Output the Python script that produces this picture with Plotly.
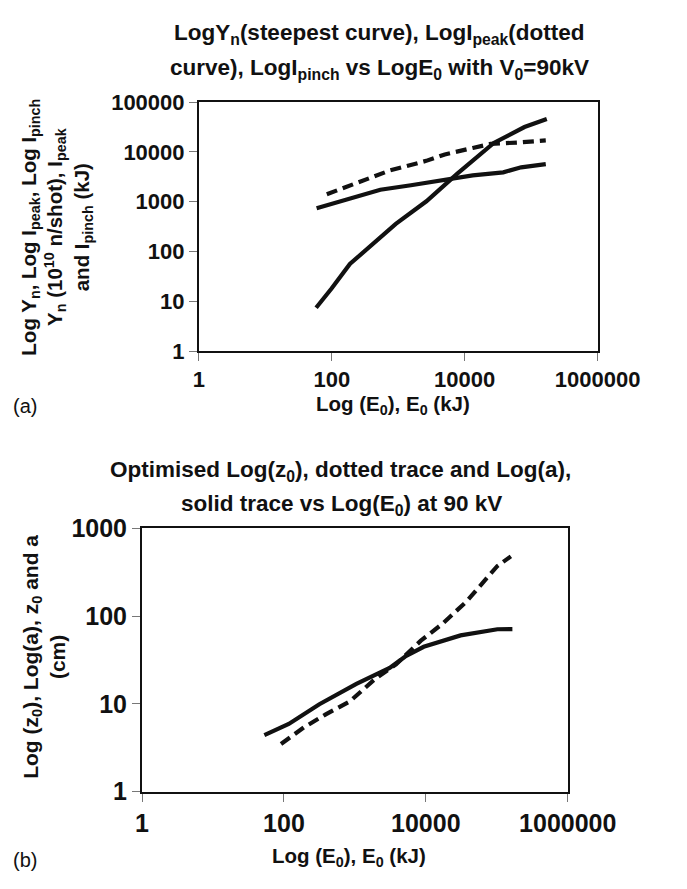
import plotly.graph_objects as go

W, H = 687, 889

# ---- data (a) ----
E_yn = [58, 99, 187, 918, 2650, 7670, 27400, 79400, 172000]
Y_yn = [7.4, 18, 56, 359, 1020, 3630, 15100, 31600, 45700]

E_peak = [84, 186, 741, 2630, 5010, 13200, 24500, 64600, 166000]
I_peak = [1410, 2140, 4220, 6610, 8910, 12000, 14500, 15500, 17000]

E_pinch = [59, 186, 537, 1550, 4470, 13200, 38000, 70800, 166000]
I_pinch = [735, 1175, 1740, 2140, 2690, 3390, 3890, 4900, 5690]

# ---- data (b) ----
E_a = [53, 117, 316, 1050, 3090, 5130, 9330, 30900, 102000, 166000]
A_cm = [4.4, 5.9, 9.9, 16.9, 25.7, 34.7, 44.7, 60.3, 70.8, 71]

E_z0 = [91, 191, 389, 851, 1910, 3800, 8510, 17000, 37200, 102000, 158000]
Z0_cm = [3.5, 5.4, 7.6, 10.7, 19.1, 28.2, 52.5, 81.3, 146, 372, 479]

x_ticks = [1, 100, 10000, 1000000]
x_ticktext = ["1", "100", "10000", "1000000"]
ya_ticks = [1, 10, 100, 1000, 10000, 100000]
ya_ticktext = ["1", "10", "100", "1000", "10000", "100000"]
yb_ticks = [1, 10, 100, 1000]
yb_ticktext = ["1", "10", "100", "1000"]

FONT = "Liberation Sans, Arial, sans-serif"
INK = "#111111"

def px(x):
    return x / W

def py(y):
    return 1 - y / H

fig = go.Figure()
solid = dict(color=INK, width=4.2)
dashed = dict(color=INK, width=4.2, dash="11px,6px")

fig.add_trace(go.Scatter(x=E_yn, y=Y_yn, mode="lines", line=solid, xaxis="x", yaxis="y"))
fig.add_trace(go.Scatter(x=E_peak, y=I_peak, mode="lines", line=dashed, xaxis="x", yaxis="y"))
fig.add_trace(go.Scatter(x=E_pinch, y=I_pinch, mode="lines", line=solid, xaxis="x", yaxis="y"))
fig.add_trace(go.Scatter(x=E_z0, y=Z0_cm, mode="lines", line=dashed, xaxis="x2", yaxis="y2"))
fig.add_trace(go.Scatter(x=E_a, y=A_cm, mode="lines", line=solid, xaxis="x2", yaxis="y2"))

axis_common = dict(type="log", showgrid=False, zeroline=False, showline=True, mirror=True,
                   linecolor=INK, linewidth=2, ticks="outside", ticklen=8,
                   tickcolor="#777777", tickwidth=1, color=INK)

fig.update_layout(
    width=W, height=H, margin=dict(l=0, r=0, t=0, b=0),
    paper_bgcolor="white", plot_bgcolor="white", showlegend=False,
    font=dict(family=FONT, color=INK),
    xaxis=dict(axis_common, domain=[px(209), px(643)], range=[0, 6], anchor="y",
               tickvals=x_ticks, ticktext=x_ticktext,
               tickfont=dict(size=22, family=FONT, weight="bold")),
    yaxis=dict(axis_common, domain=[py(348), py(91)], range=[0, 5], anchor="x",
               tickvals=ya_ticks, ticktext=ya_ticktext,
               tickfont=dict(size=22, family=FONT, weight="bold")),
    xaxis2=dict(axis_common, domain=[px(147), px(610.5)], range=[0, 6], anchor="y2",
                tickvals=x_ticks, ticktext=x_ticktext,
                tickfont=dict(size=25, family=FONT, weight="bold")),
    yaxis2=dict(axis_common, domain=[py(803), py(531)], range=[0, 3], anchor="x2",
                tickvals=yb_ticks, ticktext=yb_ticktext,
                tickfont=dict(size=25, family=FONT, weight="bold")),
)

def note(text, x, y, size, angle=0, xanchor="center", bold=True):
    fig.add_annotation(text=text, x=px(x), y=py(y), xref="paper", yref="paper",
                       showarrow=False, textangle=angle, xanchor=xanchor, yanchor="middle",
                       font=dict(size=size, family=FONT, color=INK,
                                 weight="bold" if bold else "normal"))

# (a) texts
note("LogY<sub>n</sub>(steepest curve), LogI<sub>peak</sub>(dotted", 406, 21, 22.5)
note("curve), LogI<sub>pinch</sub> vs LogE<sub>0</sub> with V<sub>0</sub>=90kV", 406, 57, 22.5)
note("Log Y<sub>n</sub>, Log I<sub>peak</sub>, Log I<sub>pinch</sub><br>"
     "Y<sub>n</sub> (10<sup>10</sup> n/shot), I<sub>peak</sub><br>"
     "and I<sub>pinch</sub> (kJ)", 54, 220, 20.5, angle=-90)
note("Log (E<sub>0</sub>), E<sub>0</sub> (kJ)", 420, 404, 20.5)
note("(a)", 4, 405, 20, xanchor="left", bold=False)

# (b) texts
note("Optimised Log(z<sub>0</sub>), dotted trace and Log(a),", 363, 472, 22.5)
note("solid trace vs Log(E<sub>0</sub>) at 90 kV", 364, 507, 22.5)
note("Log (z<sub>0</sub>), Log(a), z<sub>0</sub> and a<br>(cm)", 40, 664, 21, angle=-90)
note("Log (E<sub>0</sub>), E<sub>0</sub> (kJ)", 372, 870, 20.5)
note("(b)", 4, 873, 20, xanchor="left", bold=False)

fig.write_html("out.html")
